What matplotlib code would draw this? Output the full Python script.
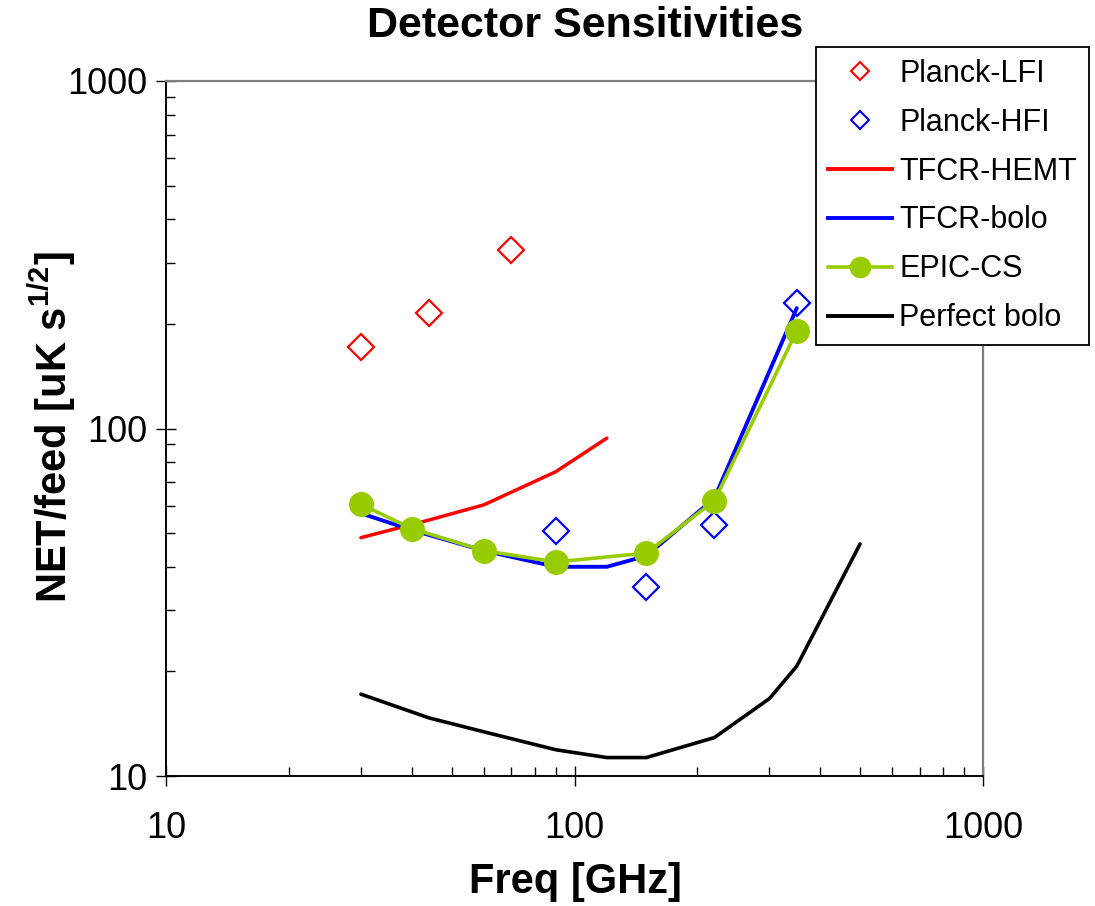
import matplotlib
matplotlib.use("Agg")
import matplotlib.pyplot as plt
from matplotlib.lines import Line2D
from matplotlib.ticker import LogLocator, NullFormatter, FixedLocator, FixedFormatter

plt.rcParams['font.family'] = ['Liberation Sans', 'DejaVu Sans']
plt.rcParams['mathtext.fontset'] = 'custom'
plt.rcParams['mathtext.rm'] = 'Liberation Sans'
plt.rcParams['mathtext.bf'] = 'Liberation Sans:bold'

# ---- data ----
lfi_freq = [30, 44, 70]
lfi_net = [172, 215, 327]

hfi_freq = [90, 150, 220, 350]
hfi_net = [50.7, 35.0, 52.8, 230]

hemt_freq = [30, 44, 60, 90, 120]
hemt_net = [48.5, 54.5, 60.3, 75.1, 93.8]

bolo_freq = [30, 40, 60, 90, 120, 150, 220, 350]
bolo_net = [57, 51, 44.5, 40, 40, 43, 63, 222]

epic_freq = [30, 40, 60, 90, 150, 220, 350]
epic_net = [60.5, 51.5, 44.5, 41.3, 43.8, 62, 191]

perfect_freq = [30, 44, 60, 90, 120, 150, 220, 300, 350, 500]
perfect_net = [17.2, 14.7, 13.4, 11.9, 11.3, 11.3, 12.9, 16.7, 20.7, 46.5]

tick_values = [10, 100, 1000]
tick_labels = ["10", "100", "1000"]

green = "#99CC00"

fig = plt.figure(figsize=(10.95, 9.06), dpi=100)
ax = fig.add_axes([166/1095, 1-776/906, 817/1095, 695/906])

ax.plot(lfi_freq, lfi_net, linestyle='none', marker='D', markersize=13.5,
        markerfacecolor='none', markeredgecolor='#FF0000', markeredgewidth=1.6, zorder=3)
ax.plot(hfi_freq, hfi_net, linestyle='none', marker='D', markersize=13.5,
        markerfacecolor='none', markeredgecolor='#0000FF', markeredgewidth=1.6, zorder=3)
ax.plot(hemt_freq, hemt_net, color='#FF0000', lw=2.5, solid_capstyle='round', zorder=4)
ax.plot(bolo_freq, bolo_net, color='#0000FF', lw=2.8, solid_capstyle='round', zorder=5)
ax.plot(epic_freq, epic_net, color=green, lw=2.6, marker='o', markersize=17,
        markerfacecolor=green, markeredgecolor=green, zorder=6)
ax.plot(perfect_freq, perfect_net, color='black', lw=2.6, solid_capstyle='round', zorder=7)

ax.set_xscale('log')
ax.set_yscale('log')
ax.set_xlim(10, 1000)
ax.set_ylim(10, 1000)

for a in (ax.xaxis, ax.yaxis):
    a.set_major_locator(FixedLocator(tick_values))
    a.set_major_formatter(FixedFormatter(tick_labels))
    a.set_minor_locator(LogLocator(base=10, subs=range(2, 10)))
    a.set_minor_formatter(NullFormatter())

ax.tick_params(which='major', direction='inout', length=14.4, width=1.0, color='black',
               labelsize=26)
ax.tick_params(which='minor', direction='in', length=6.5, width=1.0, color='black')
ax.tick_params(axis='y', which='major', pad=6.5)
ax.tick_params(axis='x', which='major', pad=18)
ax.tick_params(top=False, right=False, which='both')

for s in ('left', 'bottom'):
    ax.spines[s].set_color('black')
    ax.spines[s].set_linewidth(1.4)
for s in ('top', 'right'):
    ax.spines[s].set_color('#808080')
    ax.spines[s].set_linewidth(1.6)

ax.set_xlabel("Freq [GHz]", fontsize=30, fontweight='bold')
ax.set_ylabel(r"NET/feed [uK s$^{\mathbf{1/2}}$]", fontsize=30, fontweight='bold')
ax.xaxis.set_label_coords(0.5006, -0.124)
ax.yaxis.set_label_coords(-0.108, 0.502)

fig.text(585/1095, 1-26/906, "Detector Sensitivities", fontsize=31, fontweight='bold',
         ha='center', va='center')

handles = [
    Line2D([], [], linestyle='none', marker='D', markersize=9, markerfacecolor='none',
           markeredgecolor='#FF0000', markeredgewidth=1.5),
    Line2D([], [], linestyle='none', marker='D', markersize=9, markerfacecolor='none',
           markeredgecolor='#0000FF', markeredgewidth=1.5),
    Line2D([], [], color='#FF0000', lw=2.8),
    Line2D([], [], color='#0000FF', lw=2.8),
    Line2D([], [], color=green, lw=2.6, marker='o', markersize=14.5,
           markerfacecolor=green, markeredgecolor=green),
    Line2D([], [], color='black', lw=2.8),
]
labels = ["Planck-LFI", "Planck-HFI", "TFCR-HEMT", "TFCR-bolo", "EPIC-CS", "Perfect bolo"]
leg = fig.legend(handles, labels, loc='upper left',
                 bbox_to_anchor=(816/1095, 1-47/906), bbox_transform=fig.transFigure,
                 fontsize=22, frameon=True, fancybox=False, framealpha=1,
                 edgecolor='black', borderpad=0.38, labelspacing=0.62,
                 handlelength=2.1, handletextpad=0.25, borderaxespad=0)
leg.get_frame().set_linewidth(1.3)
leg.set_zorder(10)

fig.savefig("out.png", dpi=100)
